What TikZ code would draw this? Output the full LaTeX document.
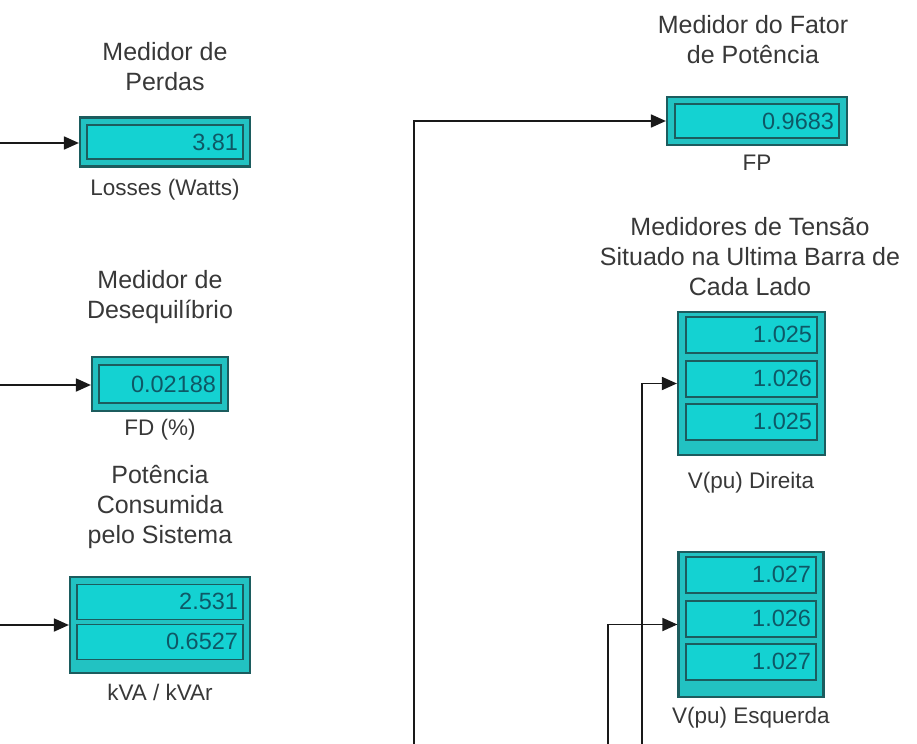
\documentclass[tikz,border=0pt]{standalone}
\usepackage{fontspec}
\setmainfont{Liberation Sans}
\usetikzlibrary{arrows.meta,positioning,calc}
\definecolor{tealD}{HTML}{1C5C5E}
\definecolor{cianoA}{HTML}{22C2C2}
\definecolor{cianoB}{HTML}{14D2D2}
\definecolor{numtxt}{HTML}{0E5866}
\definecolor{grisT}{HTML}{383838}
\tikzset{
  visor/.style={rectangle, draw=tealD, line width=1.1pt, fill=cianoA, inner sep=0pt},
  campo/.style={rectangle, draw=tealD, line width=0.7pt, fill=cianoB, text width=#1,
                align=right, inner xsep=2.5pt, inner ysep=0pt, text=numtxt,
                font=\fontsize{11.75}{13}\selectfont},
  titulo/.style={align=center, text=grisT, font=\fontsize{12.5}{15}\selectfont, inner sep=0pt},
  rotulo/.style={text=grisT, font=\fontsize{11.25}{13}\selectfont, inner sep=0pt},
  fio/.style={-{Triangle[length=7.5pt,width=6.5pt]}, line width=0.9pt, draw=black!90},
}

\begin{document}
\begin{tikzpicture}[x=0.5pt, y=-0.5pt]
        \useasboundingbox (0,0) rectangle (917,744);
        % entradas
        \coordinate (e1) at (0,143);
        \coordinate (e2) at (0,385);
        \coordinate (e3) at (0,625);
        \coordinate (e4) at (414,744);
        \coordinate (e5) at (642,744);
        \coordinate (e6) at (608,744);
        % perdas
        \node[visor, minimum width=85pt, minimum height=24.5pt] (b1) at (165,142) {};
        \node[campo=73pt, minimum height=17pt] (c1) at (b1) {3.81};
        \node[titulo] (t1) at (165,67) {Medidor de\\Perdas};
        \node[rotulo] (l1) at (165,190) {Losses (Watts)};
        % desequilibrio
        \node[visor, minimum width=68pt, minimum height=27pt] (b2) at (160,384) {};
        \node[campo=56pt, minimum height=19pt] (c2) at (b2) {0.02188};
        \node[titulo] (t2) at (160,297) {Medidor de\\Desequilíbrio};
        \node[rotulo] (l2) at (160,430) {FD (\%)};
        % potencia
        \node[visor, minimum width=90pt, minimum height=48pt] (b3) at (160,625) {};
        \node[campo=78pt, minimum height=17.5pt] (c3a) at ($(b3.north)+(0,26)$) {2.531};
        \node[campo=78pt, minimum height=17.5pt] (c3b) at ($(b3.north)+(0,66)$) {0.6527};
        \node[titulo] (t3) at (160,507) {Potência\\Consumida\\pelo Sistema};
        \node[rotulo] (l3) at (160,692) {kVA / kVAr};
        % fator de potencia
        \node[visor, minimum width=90pt, minimum height=24pt] (b4) at (757,121) {};
        \node[campo=77pt, minimum height=17pt] (c4) at (b4) {0.9683};
        \node[titulo] (t4) at (753,40) {Medidor do Fator\\de Potência};
        \node[rotulo] (l4) at (757,163) {FP};
        % tensao direita
        \node[visor, minimum width=73.5pt, minimum height=71.5pt] (b5) at (751.5,383.5) {};
        \node[campo=60.5pt, minimum height=18pt] (c5a) at ($(b5.north)+(0,24)$) {1.025};
        \node[campo=60.5pt, minimum height=18pt] (c5b) at ($(b5.north)+(0,68)$) {1.026};
        \node[campo=60.5pt, minimum height=18pt] (c5c) at ($(b5.north)+(0,111)$) {1.025};
        \node[titulo] (t5) at (750,257) {Medidores de Tensão\\Situado na Ultima Barra de\\Cada Lado};
        \node[rotulo] (l5) at (751,483) {V(pu) Direita};
        % tensao esquerda
        \node[visor, minimum width=72.5pt, minimum height=72.5pt] (b6) at (751,624.5) {};
        \node[campo=60pt, minimum height=18pt] (c6a) at ($(b6.north)+(0,24)$) {1.027};
        \node[campo=60pt, minimum height=18pt] (c6b) at ($(b6.north)+(0,68)$) {1.026};
        \node[campo=60pt, minimum height=18pt] (c6c) at ($(b6.north)+(0,111)$) {1.027};
        \node[rotulo] (l6) at (751,718) {V(pu) Esquerda};
        % ligacoes
        \draw[fio] (e1) -- (e1 -| b1.west);
        \draw[fio] (e2) -- (e2 -| b2.west);
        \draw[fio] (e3) -- (e3 -| b3.west);
        \draw[fio] (e4) |- (b4.west);
        \draw[fio] (e5) |- (b5.west);
        \draw[fio] (e6) |- (b6.west);
      \end{tikzpicture}
\end{document}
